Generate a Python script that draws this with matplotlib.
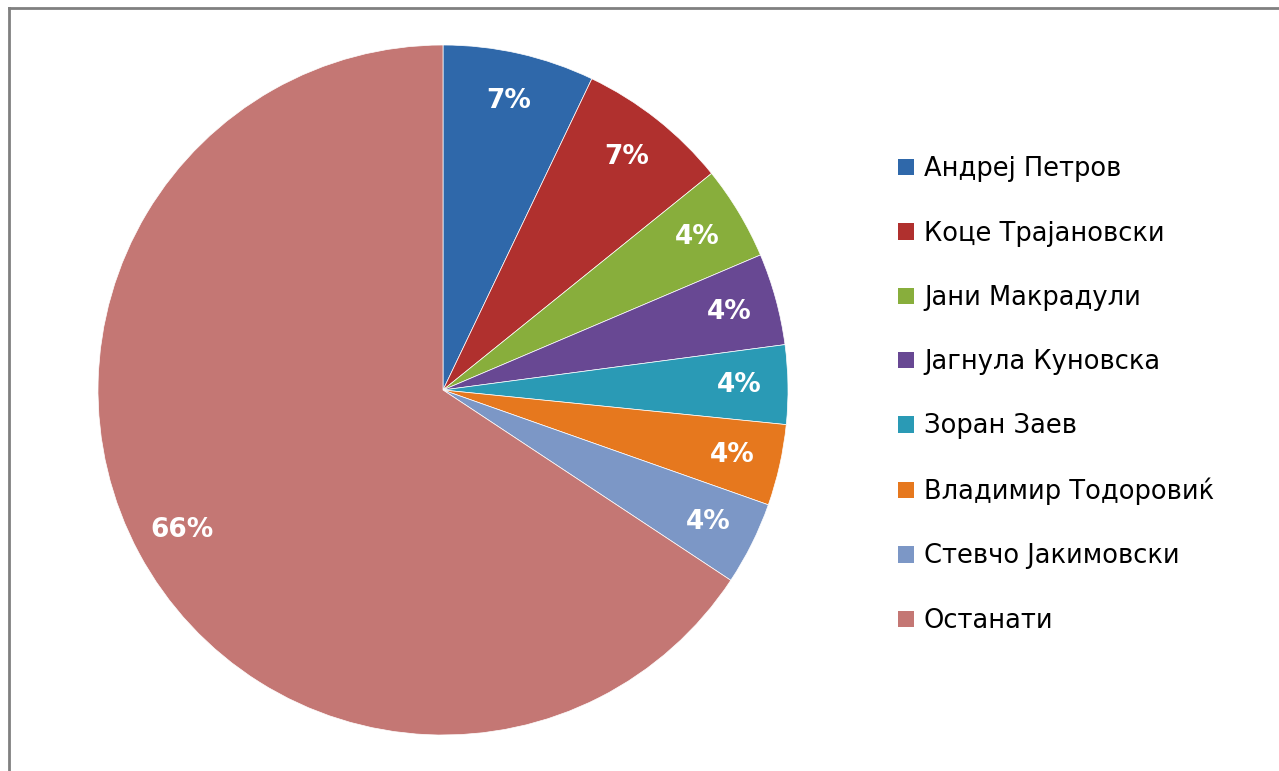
import matplotlib.pyplot as plt
from matplotlib.patches import Patch
from matplotlib.lines import Line2D

# Data
names = ['Андреј Петров', 'Коце Трајановски', 'Јани Макрадули', 'Јагнула Куновска',
         'Зоран Заев', 'Владимир Тодоровиќ', 'Стевчо Јакимовски', 'Останати']
shares = [7.1, 7.1, 4.4, 4.3, 3.7, 3.8, 3.9, 65.7]
colors = ['#2F68AA', '#B0302E', '#88AE3C', '#684893', '#2A9AB5', '#E6781E', '#7C97C6', '#C47774']

plt.rcParams['font.family'] = ['DejaVu Sans']

fig = plt.figure(figsize=(12.79, 7.71), dpi=100)
ax = fig.add_axes([98 / 1279, 36 / 771, 690 / 1279, 690 / 771])

wedges, texts, autotexts = ax.pie(shares, colors=colors, startangle=90, counterclock=False,
                                  autopct='%.0f%%', pctdistance=0.86, radius=1.0,
                                  wedgeprops=dict(edgecolor='white', linewidth=0.5),
                                  textprops=dict(color='white', fontsize=19, fontweight='bold'))
ax.set_xlim(-1, 1)
ax.set_ylim(-1, 1)
ax.set_aspect('equal')

# Legend
handles = [Patch(facecolor=c, edgecolor='none') for c in colors]
fig.legend(handles, names, loc='upper left', bbox_to_anchor=(888 / 1279, 1 - 146 / 771),
           frameon=False, fontsize=18.5, labelspacing=1.49, handlelength=0.6, handleheight=0.6,
           handletextpad=0.4, borderaxespad=0)

# Outer frame (top and left edge visible)
fig.add_artist(Line2D([9 / 1279, 1.0], [1 - 8 / 771, 1 - 8 / 771], transform=fig.transFigure,
                      color='#808080', linewidth=2))
fig.add_artist(Line2D([9 / 1279, 9 / 1279], [0.0, 1 - 8 / 771], transform=fig.transFigure,
                      color='#808080', linewidth=2))

fig.savefig('out.png', dpi=100)
